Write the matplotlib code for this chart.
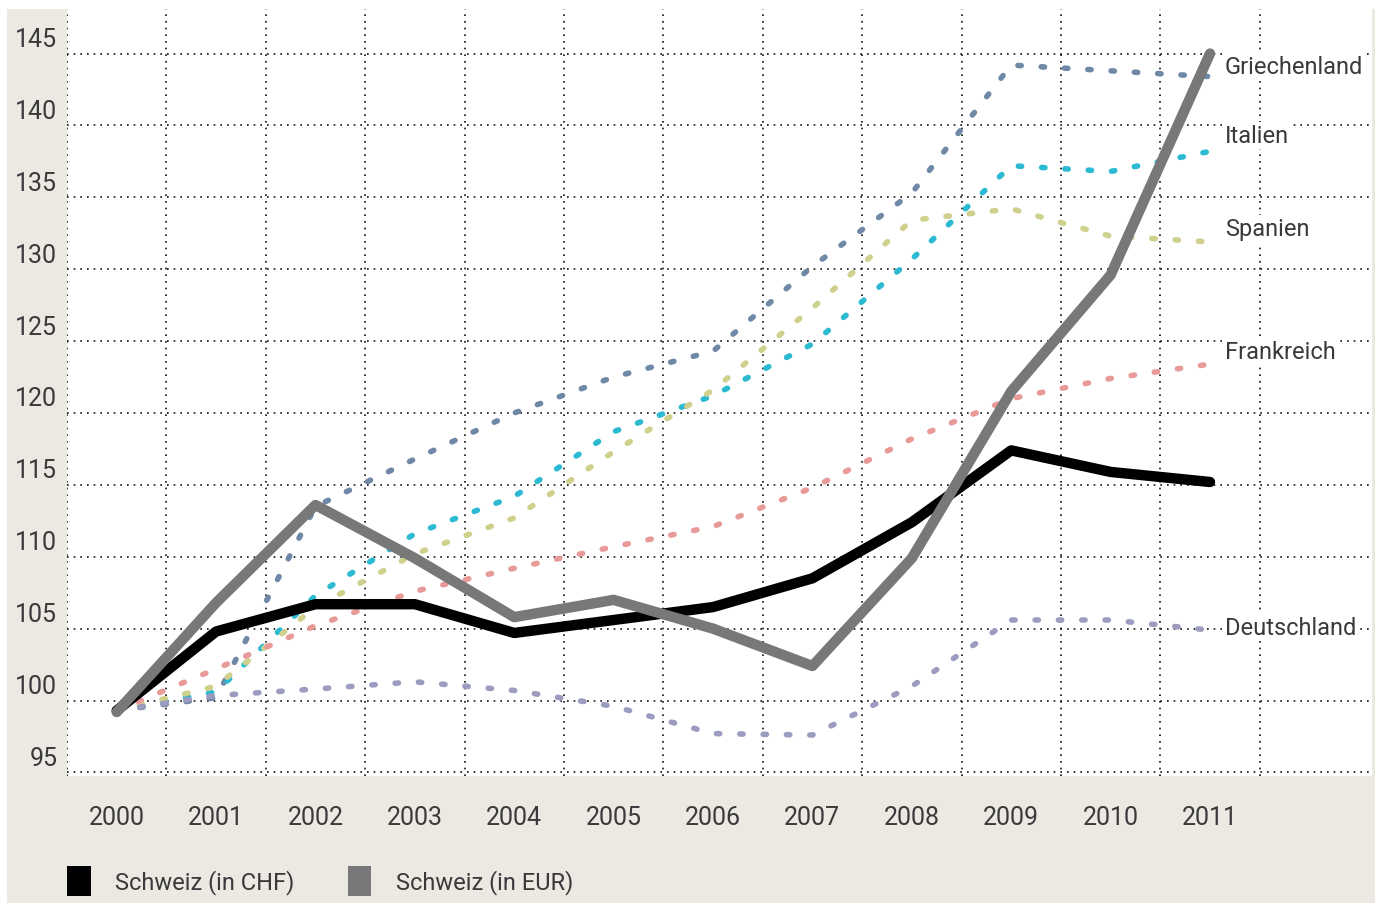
import numpy as np
import matplotlib
matplotlib.use("Agg")
import matplotlib.pyplot as plt
from matplotlib.patches import Patch, Rectangle
from matplotlib.transforms import ScaledTranslation

# Daten (Index 2000 = 100)
jahre = np.arange(2000, 2012)
schweiz_chf = [99.3, 104.8, 106.7, 106.7, 104.7, 105.6, 106.5, 108.5, 112.4, 117.4, 115.9, 115.2]
schweiz_eur = [99.2, 106.8, 113.6, 109.9, 105.8, 107.0, 105.0, 102.4, 109.9, 121.5, 129.6, 145.0]
griechenland = [99.3, 100.2, 113.5, 116.8, 120.0, 122.5, 124.3, 130.2, 135.3, 144.2, 143.8, 143.4]
italien = [99.3, 100.6, 107.3, 111.6, 114.2, 118.7, 121.2, 124.8, 130.7, 137.2, 136.8, 138.2]
spanien = [99.3, 101.0, 106.5, 110.2, 112.7, 117.3, 121.6, 127.3, 133.4, 134.2, 132.3, 131.9]
frankreich = [99.3, 102.2, 105.2, 107.6, 109.2, 110.7, 112.1, 114.8, 118.2, 121.0, 122.4, 123.4]
deutschland = [99.3, 100.35, 100.8, 101.3, 100.7, 99.6, 97.7, 97.6, 101.0, 105.6, 105.6, 104.9]

laender = ["Griechenland", "Italien", "Spanien", "Frankreich", "Deutschland"]
werte = [griechenland, italien, spanien, frankreich, deutschland]
farben = ["#6f88a6", "#2cbad2", "#cfd08c", "#e79a98", "#9c9cc0"]
y_ticks = list(range(95, 150, 5))

schrift = ["Roboto", "DejaVu Sans"]
beige = "#ece9e3"
textfarbe = "#3a3a3a"

fig = plt.figure(figsize=(13.8, 9.04), dpi=100)
fig.patch.set_facecolor("white")
fig.patches.append(Rectangle((7 / 1380, 0), (1375 - 7) / 1380, 1 - 10 / 904,
                             transform=fig.transFigure, facecolor=beige,
                             edgecolor="none", zorder=-10))

ax = fig.add_axes([67 / 1380, 1 - 777 / 904, (1372 - 67) / 1380, (777 - 10) / 904])
ax.set_facecolor("white")
for s in ax.spines.values():
    s.set_visible(False)

ax.set_xlim(1999.5, 2012.63)
ax.set_ylim(94.75, 148.1)

# Gitter
ax.set_xticks(jahre)
ax.set_xticks(np.arange(1999.5, 2012, 1.0), minor=True)
ax.set_yticks(y_ticks)
ax.grid(which="minor", axis="x", color="#111111", linestyle=(0, (1, 3)), linewidth=1.2)
ax.grid(which="major", axis="y", color="#111111", linestyle=(0, (1, 3)), linewidth=1.2)
ax.tick_params(which="both", length=0)
ax.tick_params(axis="x", pad=21, labelsize=18, labelcolor=textfarbe)
ax.tick_params(axis="y", pad=7, labelsize=18, labelcolor=textfarbe)
for lab in ax.get_xticklabels() + ax.get_yticklabels():
    lab.set_family(schrift)
for lab in ax.get_yticklabels():
    lab.set_transform(lab.get_transform() + ScaledTranslation(0, 0.17, fig.dpi_scale_trans))
ax.set_axisbelow(True)

# gepunktete Länderlinien
for name, w, c in zip(laender, werte, farben):
    ax.plot(jahre, w, color=c, linewidth=4, linestyle=(0, (0.6, 3.6)),
            dash_capstyle="round", zorder=2)

ax.plot(jahre, schweiz_chf, color="black", linewidth=7.5, solid_joinstyle="round",
        solid_capstyle="round", zorder=3)
ax.plot(jahre, schweiz_eur, color="#787878", linewidth=7.5, solid_joinstyle="round",
        solid_capstyle="round", zorder=4)

# Beschriftungen rechts
label_y = {"Griechenland": 144.1, "Italien": 139.3, "Spanien": 132.8,
           "Frankreich": 124.3, "Deutschland": 105.1}
for name in laender:
    ax.text(2011.15, label_y[name], name, fontsize=17, family=schrift, color=textfarbe,
            ha="left", va="center", zorder=5,
            bbox=dict(facecolor="white", edgecolor="none", pad=1.5))

# Legende
handles = [Patch(facecolor="black", edgecolor="none"),
           Patch(facecolor="#787878", edgecolor="none")]
leg = fig.legend(handles, ["Schweiz (in CHF)", "Schweiz (in EUR)"], ncol=2,
                 loc="center left", bbox_to_anchor=(57.5 / 1380, 1 - 882 / 904),
                 borderaxespad=0, frameon=False, handlelength=1.0, handleheight=1.55,
                 handletextpad=1.05, columnspacing=2.25,
                 prop={"family": schrift, "size": 17})
for t in leg.get_texts():
    t.set_color(textfarbe)

fig.savefig("out.png", dpi=100, facecolor=fig.get_facecolor())
